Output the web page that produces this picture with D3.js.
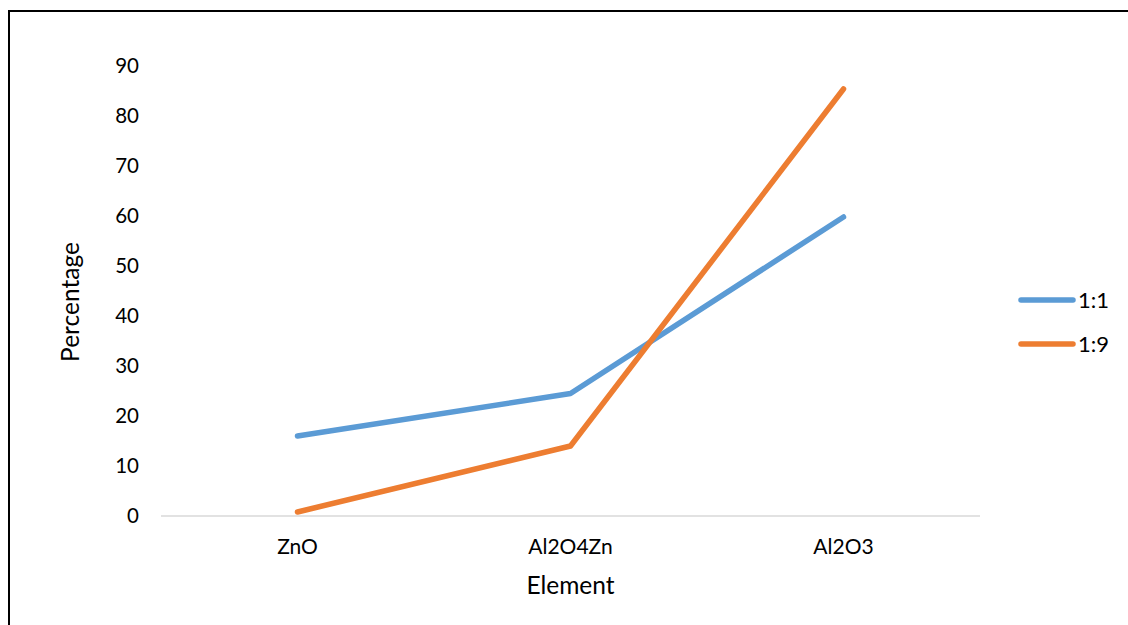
<!DOCTYPE html>
<html>
<head>
<meta charset="utf-8">
<script src="https://cdn.jsdelivr.net/npm/d3@7"></script>
<style>
  html, body { margin: 0; padding: 0; background: #fff; }
  svg { display: block; }
  text { font-family: Lato, "Liberation Sans", sans-serif; fill: #000; }
</style>
</head>
<body>
<svg id="chart" width="1128" height="625"></svg>
<script>
// Phase composition by element for two mixing ratios
const categories = ["ZnO", "Al2O4Zn", "Al2O3"];
const seriesNames = ["1:1", "1:9"];
const ratio11 = [16, 24.5, 59.8];
const ratio19 = [0.8, 14, 85.4];
const yTicks = [0, 10, 20, 30, 40, 50, 60, 70, 80, 90];
const colors = ["#5B9BD5", "#ED7D31"];

const series = [
  { name: seriesNames[0], values: ratio11, color: colors[0] },
  { name: seriesNames[1], values: ratio19, color: colors[1] }
];

const svg = d3.select("#chart");

// outer frame
svg.append("rect")
  .attr("x", 9).attr("y", 11)
  .attr("width", 1140).attr("height", 640)
  .attr("fill", "none")
  .attr("stroke", "#000")
  .attr("stroke-width", 2);

const plot = { left: 161, right: 980, top: 66, bottom: 516 };

const x = d3.scaleBand()
  .domain(categories)
  .range([plot.left, plot.right]);

const y = d3.scaleLinear()
  .domain([0, 90])
  .range([plot.bottom, plot.top]);

// baseline
svg.append("line")
  .attr("x1", plot.left).attr("x2", plot.right)
  .attr("y1", y(0)).attr("y2", y(0))
  .attr("stroke", "#D9D9D9")
  .attr("stroke-width", 1.5);

// y axis labels
const yAxis = d3.axisLeft(y).tickValues(yTicks).tickSize(0).tickPadding(0);
const gy = svg.append("g")
  .attr("transform", `translate(${plot.left - 22},0)`)
  .call(yAxis);
gy.select(".domain").remove();
gy.selectAll("text").attr("font-size", 20.5).attr("font-family", "Lato, 'Liberation Sans', sans-serif").attr("fill", "#000");

// x axis labels
const xAxis = d3.axisBottom(x).tickSize(0).tickPadding(0);
const gx = svg.append("g")
  .attr("transform", `translate(0,${plot.bottom + 23})`)
  .call(xAxis);
gx.select(".domain").remove();
gx.selectAll("text").attr("font-size", 21).attr("font-family", "Lato, 'Liberation Sans', sans-serif").attr("fill", "#000");

// axis titles
svg.append("text")
  .attr("x", x("Al2O4Zn") + x.bandwidth() / 2)
  .attr("y", 594)
  .attr("text-anchor", "middle")
  .attr("font-size", 24.5)
  .text("Element");

svg.append("text")
  .attr("transform", "translate(79,302) rotate(-90)")
  .attr("text-anchor", "middle")
  .attr("font-size", 24.5)
  .text("Percentage");

// lines
const line = d3.line()
  .x((d, i) => x(categories[i]) + x.bandwidth() / 2)
  .y(d => y(d));

svg.selectAll("path.series")
  .data(series)
  .join("path")
  .attr("class", "series")
  .attr("d", d => line(d.values))
  .attr("fill", "none")
  .attr("stroke", d => d.color)
  .attr("stroke-width", 5.5)
  .attr("stroke-linecap", "round")
  .attr("stroke-linejoin", "round");

// legend
const legend = svg.append("g");
series.forEach((s, i) => {
  const ly = 300 + i * 44;
  legend.append("line")
    .attr("x1", 1021).attr("x2", 1073)
    .attr("y1", ly).attr("y2", ly)
    .attr("stroke", s.color)
    .attr("stroke-width", 5.5)
    .attr("stroke-linecap", "round");
  legend.append("text")
    .attr("x", 1078).attr("y", ly + 8)
    .attr("font-size", 22)
    .text(s.name);
});
</script>
</body>
</html>
